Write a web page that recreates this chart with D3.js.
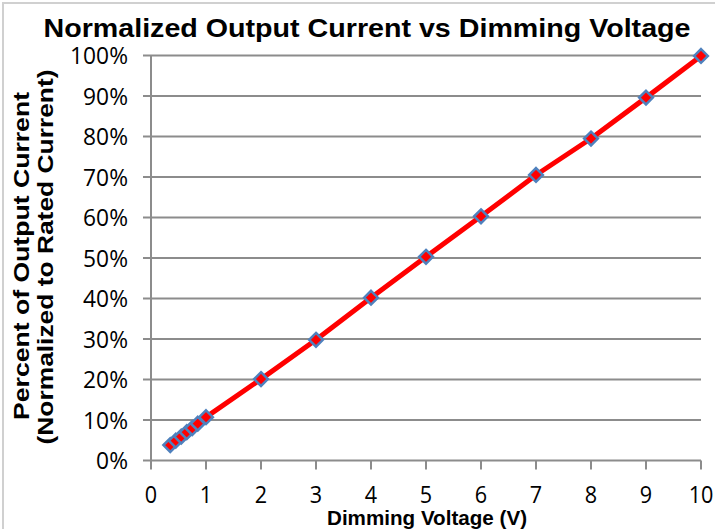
<!DOCTYPE html>
<html><head><meta charset="utf-8">
<script src="https://cdn.jsdelivr.net/npm/d3@7"></script>
<style>body{margin:0;background:#fff}svg{display:block}</style>
</head><body>
<svg id="c" width="715" height="529"></svg>
<script>
const voltage = [0.35, 0.45, 0.55, 0.65, 0.75, 0.85, 1, 2, 3, 4, 5, 6, 7, 8, 9, 10];
const current = [3.8, 4.9, 5.9, 7.0, 8.0, 9.1, 10.7, 20.1, 29.8, 40.2, 50.3, 60.3, 70.5, 79.5, 89.6, 99.9];
const xTicks = [0,1,2,3,4,5,6,7,8,9,10];
const yTicks = [0,10,20,30,40,50,60,70,80,90,100];
const title = "Normalized Output Current vs Dimming Voltage";
const xTitle = "Dimming Voltage (V)";
const yTitle = ["Percent of Output Current", "(Normalized to Rated Current)"];

const svg = d3.select("#c");
const x = d3.scaleLinear().domain([0,10]).range([151,701]);
const y = d3.scaleLinear().domain([0,100]).range([460.5,55.5]);

svg.append("rect").attr("x",3).attr("y",3).attr("width",720).attr("height",540)
  .attr("fill","#fff").attr("stroke","#d0d0d0").attr("stroke-width",2);

// gridlines
svg.append("g").selectAll("line").data(yTicks).join("line")
  .attr("x1",143).attr("x2",701).attr("y1",d=>y(d)).attr("y2",d=>y(d))
  .attr("stroke","#8c8c8c").attr("stroke-width",2);
// y axis line
svg.append("line").attr("x1",151).attr("x2",151).attr("y1",y(100)).attr("y2",y(0))
  .attr("stroke","#8c8c8c").attr("stroke-width",2);
// x ticks
svg.append("g").selectAll("line").data(xTicks).join("line")
  .attr("x1",d=>x(d)).attr("x2",d=>x(d)).attr("y1",y(0)).attr("y2",y(0)+9)
  .attr("stroke","#8c8c8c").attr("stroke-width",2);

const lab = "'Open Sans', sans-serif";
svg.append("g").selectAll("text").data(yTicks).join("text")
  .attr("x",128).attr("y",d=>y(d)).attr("dy","0.36em").attr("text-anchor","end")
  .attr("font-family",lab).attr("font-size",24).attr("fill","#000")
  .attr("transform",d=>`translate(128,${y(d)}) scale(0.95,1) translate(-128,${-y(d)})`)
  .text(d=>d+"%");
svg.append("g").selectAll("text").data(xTicks).join("text")
  .attr("x",d=>x(d)).attr("y",503).attr("text-anchor","middle")
  .attr("font-family",lab).attr("font-size",24).attr("fill","#000")
  .attr("transform",d=>`translate(${x(d)},0) scale(0.9,1) translate(${-x(d)},0)`)
  .text(d=>d);

// line
const line = d3.line().x((d,i)=>x(voltage[i])).y(d=>y(d));
svg.append("path").datum(current).attr("d",line).attr("fill","none")
  .attr("stroke","#ff0000").attr("stroke-width",5).attr("stroke-linecap","round").attr("stroke-linejoin","round");
// markers
svg.append("g").selectAll("path").data(current).join("path")
  .attr("transform",(d,i)=>`translate(${x(voltage[i])},${y(d)})`)
  .attr("d",d3.symbol().type(d3.symbolDiamond2).size(120))
  .attr("fill","#ff0000").attr("stroke","#4f81bd").attr("stroke-width",2.5);

// titles
const tf = "'Liberation Sans', Arial, sans-serif";
svg.append("text").attr("x",367).attr("y",37).attr("text-anchor","middle")
  .attr("font-family",tf).attr("font-weight","bold")
  .attr("font-size",26).attr("textLength",647).attr("lengthAdjust","spacingAndGlyphs").text(title);
svg.append("text").attr("x",427).attr("y",525).attr("text-anchor","middle")
  .attr("font-family",tf).attr("font-weight","bold")
  .attr("font-size",21).attr("textLength",200).attr("lengthAdjust","spacingAndGlyphs").text(xTitle);
svg.append("text").attr("transform","translate(29,256) rotate(-90)").attr("text-anchor","middle")
  .attr("font-family",tf).attr("font-weight","bold")
  .attr("font-size",22).attr("textLength",328).attr("lengthAdjust","spacingAndGlyphs").text(yTitle[0]);
svg.append("text").attr("transform","translate(53,257) rotate(-90)").attr("text-anchor","middle")
  .attr("font-family",tf).attr("font-weight","bold")
  .attr("font-size",22).attr("textLength",375).attr("lengthAdjust","spacingAndGlyphs").text(yTitle[1]);
</script>
</body></html>
